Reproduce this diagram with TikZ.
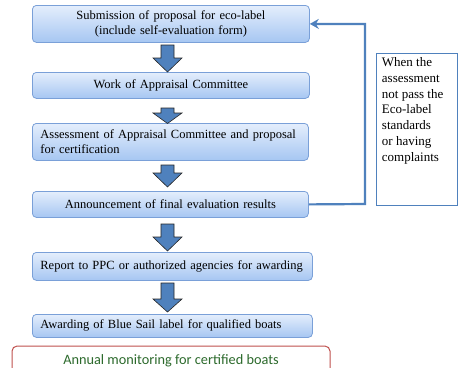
\documentclass[tikz,border=0pt]{standalone}
\usepackage{fontspec}
\setmainfont{Liberation Serif}
\newfontfamily\calfont{Carlito}
\usetikzlibrary{arrows.meta}
\definecolor{boxtop}{HTML}{E4EEFC}
\definecolor{boxbot}{HTML}{A6C6F2}
\definecolor{boxedge}{HTML}{7AA0D8}
\definecolor{arrblue}{HTML}{4F81BD}
\definecolor{redline}{HTML}{C0504D}
\definecolor{greentext}{HTML}{2C6A2C}
\tikzset{
  box/.style={draw=boxedge, line width=0.8pt, top color=boxtop, bottom color=boxbot,
    rounded corners=4pt, anchor=north west, inner xsep=8pt, inner ysep=0pt,
    font=\fontsize{12.5}{15}\selectfont},
  blockarr/.style={fill=arrblue, draw=black!85, line width=0.6pt, line join=miter},
  feedback/.style={draw=arrblue, line width=2.2pt, -{Stealth[length=9pt,width=10pt,inset=3pt]}},
  notebox/.style={draw=arrblue, line width=0.9pt, anchor=north west, inner xsep=5pt, inner ysep=2pt,
    font=\fontsize{13}{15.8}\selectfont},
  redbox/.style={draw=redline, line width=1pt, rounded corners=5pt,
    text=greentext, font=\calfont\fontsize{14.3}{16}\selectfont, inner ysep=8pt,
    minimum width=318pt, anchor=base}
}
\begin{document}
\begin{tikzpicture}[x=1pt,y=-1pt]
\clip (0,0) rectangle (458,367);
\fill[white] (0,0) rectangle (458,367);

\node[box, minimum width=277pt, minimum height=37pt, text width=261pt, align=center] (b1) at (32,5)
  {Submission of proposal for eco-label\\(include self-evaluation form)};
\node[box, minimum width=277pt, minimum height=26pt, text width=261pt, align=center] (b2) at (32,72)
  {Work of Appraisal Committee};
\node[box, minimum width=276pt, minimum height=37pt, text width=260pt, align=left] (b3) at (32,123)
  {Assessment of Appraisal Committee and proposal\\for certification};
\node[box, minimum width=276pt, minimum height=26pt, text width=260pt, align=center] (b4) at (32,191)
  {Announcement of final evaluation results};
\node[box, minimum width=280pt, minimum height=28pt, text width=264pt, align=left] (b5) at (32,252)
  {Report to PPC or authorized agencies for awarding};
\node[box, minimum width=280pt, minimum height=23pt, text width=264pt, align=left] (b6) at (32,314)
  {Awarding of Blue Sail label for qualified boats};

\foreach \t/\s/\e in {45/58/72, 108/113/123.5, 165/173/187, 224/237/251, 283/299/312}{
  \draw[blockarr] (161,\t) -- (174,\t) -- (174,\s) -- (182,\s) -- (167.5,\e)
    -- (153,\s) -- (161,\s) -- cycle;
}

\coordinate (turn) at (365,204);
\draw[feedback, line join=miter] (b4.east) -- (turn) |- (b1.east);

\node[notebox, minimum width=81pt, minimum height=152pt] (note) at (376,53)
  {\parbox[t][144pt][t]{70pt}{\raggedright When the\\assessment\\not pass the\\Eco-label\\standards\\or having\\complaints}};

\node[redbox] (mon) at (171,364)
  {Annual monitoring for certified boats\rule[-30pt]{0pt}{0pt}};
\end{tikzpicture}
\end{document}
